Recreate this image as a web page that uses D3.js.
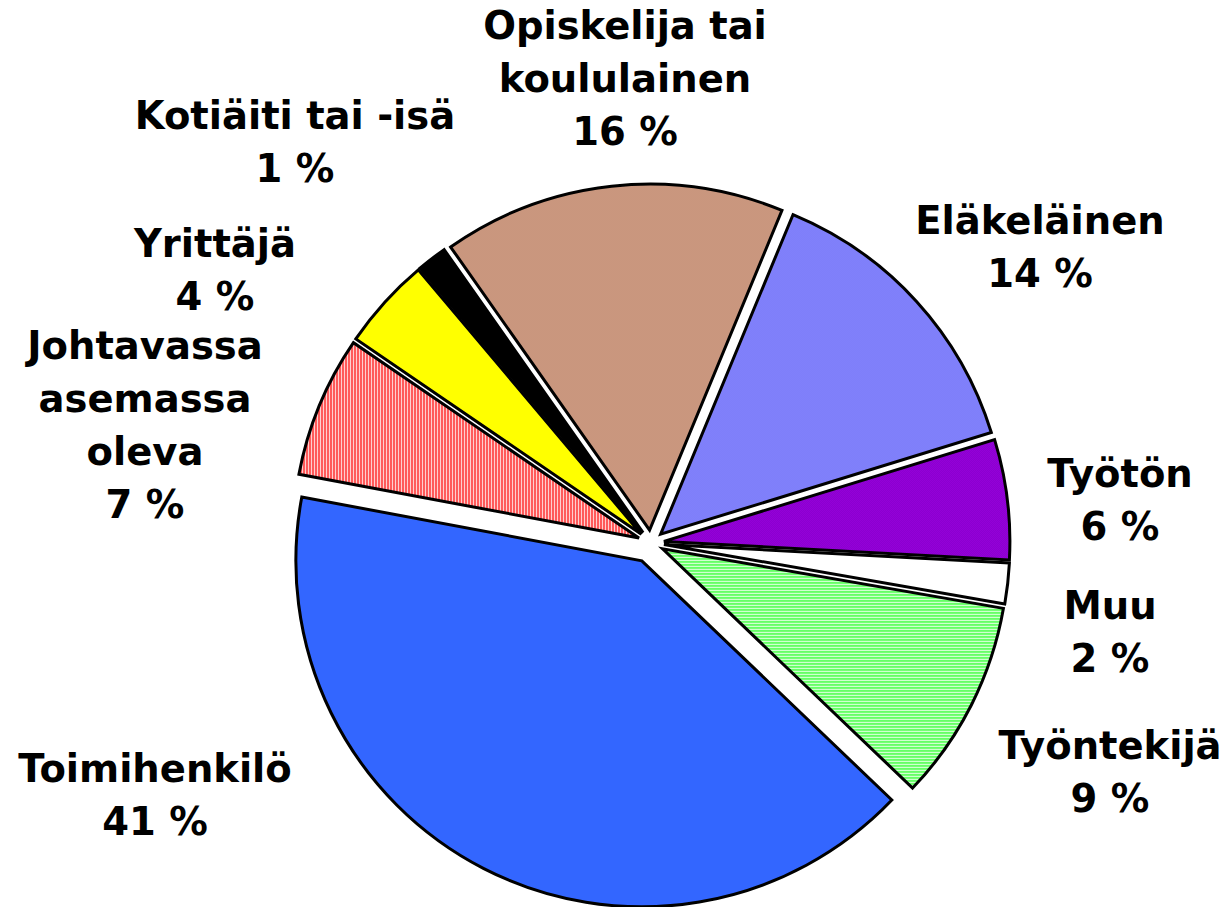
<!DOCTYPE html>
<html><head><meta charset="utf-8">
<script src="https://cdn.jsdelivr.net/npm/d3@7"></script>
<style>body{margin:0;background:#fff}svg{display:block}</style>
</head><body>
<svg id="c" width="1227" height="907"></svg>
<script>
// ---- data ----
const categories = ["Eläkeläinen", "Työtön", "Muu", "Työntekijä", "Toimihenkilö",
  "Johtavassa asemassa oleva", "Yrittäjä", "Kotiäiti tai -isä", "Opiskelija tai koululainen"];
const labelLines = [["Eläkeläinen"], ["Työtön"], ["Muu"], ["Työntekijä"], ["Toimihenkilö"],
  ["Johtavassa", "asemassa", "oleva"], ["Yrittäjä"], ["Kotiäiti tai -isä"], ["Opiskelija tai", "koululainen"]];
const values = [14.0, 5.6, 1.9, 9.4, 40.8, 6.6, 4.3, 1.4, 16.0];

// ---- layout / style ----
const labelAnchors = [[1040, 220], [1120, 473], [1110, 605], [1110, 745], [155, 768],
  [145, 345], [215, 243], [295, 115], [625, 25]];
const explode = [13, 13, 13, 13, 20, 13, 13, 13, 13];
const fills = ["url(#pEl)", "url(#pTy)", "#ffffff", "url(#pTe)", "#3366ff",
  "url(#pJo)", "#ffff00", "#000000", "url(#pOp)"];
const cx = 651, cy = 543, R = 346, lineH = 53;

const svg = d3.select("#c");
const defs = svg.append("defs");
function checker(id, a, b) {
  const p = defs.append("pattern").attr("id", id).attr("patternUnits", "userSpaceOnUse")
    .attr("width", 2).attr("height", 2);
  p.append("rect").attr("width", 2).attr("height", 2).attr("fill", a);
  p.append("rect").attr("width", 1).attr("height", 1).attr("fill", b);
  p.append("rect").attr("x", 1).attr("y", 1).attr("width", 1).attr("height", 1).attr("fill", b);
}
checker("pEl", "#8585ff", "#7a7af5");
checker("pOp", "#cf9c82", "#c4917a");
checker("pTy", "#b000f0", "#7000b8");
{
  const p = defs.append("pattern").attr("id", "pTe").attr("patternUnits", "userSpaceOnUse")
    .attr("width", 4).attr("height", 3);
  p.append("rect").attr("width", 4).attr("height", 3).attr("fill", "#e0ffe0");
  p.append("rect").attr("width", 4).attr("height", 2).attr("fill", "#66ff66");
}
{
  const p = defs.append("pattern").attr("id", "pJo").attr("patternUnits", "userSpaceOnUse")
    .attr("width", 3).attr("height", 4);
  p.append("rect").attr("width", 3).attr("height", 4).attr("fill", "#ffd0d0");
  p.append("rect").attr("width", 2).attr("height", 4).attr("fill", "#ff5a5a");
}

const pie = d3.pie().sort(null).value(d => d)
  .startAngle(22.5 * Math.PI / 180).endAngle(22.5 * Math.PI / 180 + 2 * Math.PI);
const arcs = pie(values);
const arc = d3.arc().innerRadius(0).outerRadius(R);

svg.append("g").selectAll("path").data(arcs).join("path")
  .attr("transform", (d, i) => {
    const m = (d.startAngle + d.endAngle) / 2;
    return `translate(${cx + explode[i] * Math.sin(m)},${cy - explode[i] * Math.cos(m)})`;
  })
  .attr("d", arc)
  .attr("fill", (d, i) => fills[i])
  .attr("stroke", "#000").attr("stroke-width", 3).attr("stroke-linejoin", "miter");

const lg = svg.append("g").attr("font-family", "DejaVu Sans, Verdana, sans-serif")
  .attr("font-weight", "bold").attr("font-size", 38.5).attr("text-anchor", "middle");
categories.forEach((c, i) => {
  const lines = labelLines[i].concat([Math.round(values[i]) + " %"]);
  const t = lg.append("text").attr("x", labelAnchors[i][0]).attr("y", labelAnchors[i][1])
    .attr("dominant-baseline", "central");
  lines.forEach((l, j) => {
    t.append("tspan").attr("x", labelAnchors[i][0]).attr("y", labelAnchors[i][1] + j * lineH).text(l);
  });
});
</script>
</body></html>
